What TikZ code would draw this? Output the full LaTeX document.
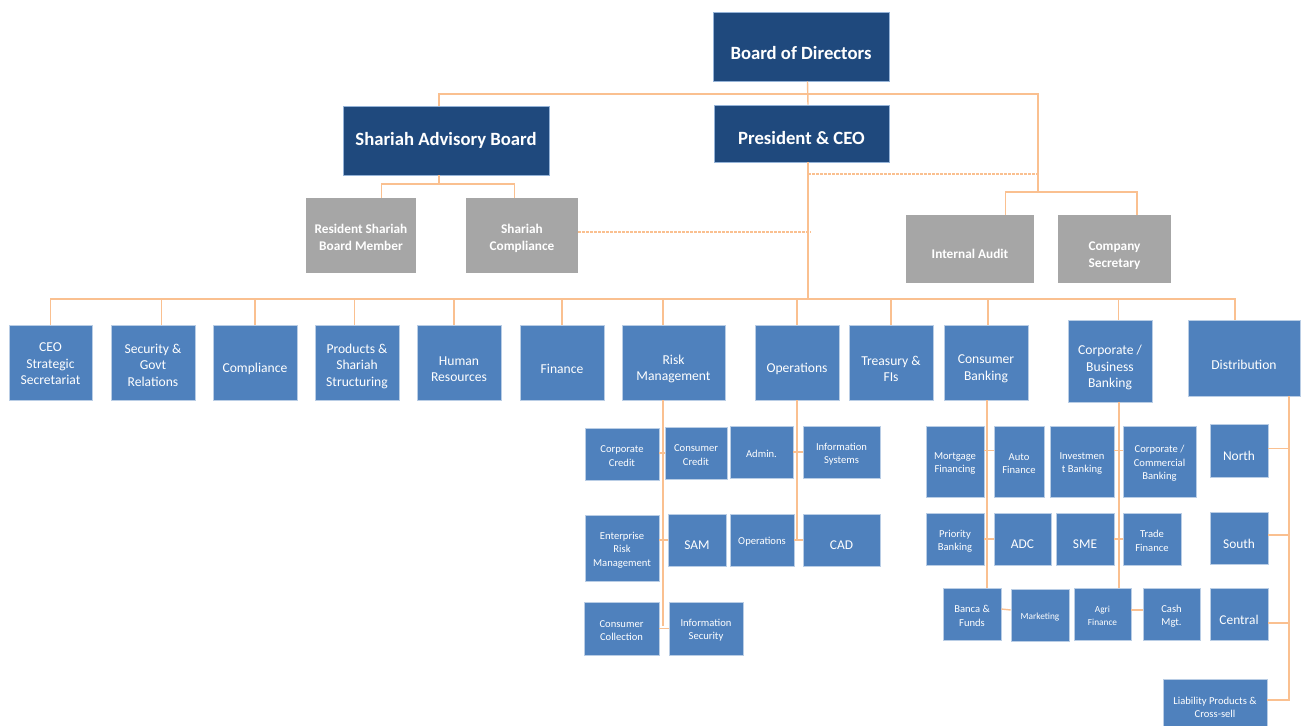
\documentclass[tikz,border=0pt]{standalone}
\usepackage{fontspec}
\setmainfont{Carlito}
\definecolor{dkblue}{RGB}{31,73,125}
\definecolor{ltblue}{RGB}{79,129,189}
\definecolor{grbox}{RGB}{166,166,166}
\definecolor{orline}{RGB}{250,192,144}
\pgfkeys{/org/ts/.code={\xdef\orgts{#1}}}
\gdef\orgts{0}
\newcommand\orgbox[8][]{%
  \node[#3,#1,minimum width={(#6)-(#4)},minimum height={(#7)-(#5)}] (#2) at ({((#4)+(#6))/2},{((#5)+(#7))/2}) {};
  \node[#3,#1,fill=none,draw=none,yshift=-\orgts pt] (#2-t) at (#2.center) {#8};}
\begin{document}
\begin{tikzpicture}[x=1pt,y=-1pt,
  base/.style={rectangle,inner sep=0pt,text=white,align=center},
  topbox/.style={base,fill=dkblue,draw=ltblue!60,line width=0.6pt,font=\bfseries\fontsize{18.7}{22}\selectfont,/org/ts=5},
  graybox/.style={base,fill=grbox,font=\bfseries\fontsize{13.3}{17}\selectfont,/org/ts=4.5},
  deptbox/.style={base,fill=ltblue,draw=ltblue!40,line width=0.6pt,font=\fontsize{13.6}{16.5}\selectfont,/org/ts=6.5},
  subbox/.style={base,fill=ltblue,draw=ltblue!40,line width=0.6pt,font=\fontsize{10.6}{13.3}\selectfont,/org/ts=2},
  bigsub/.style={subbox,font=\fontsize{13.4}{16}\selectfont,/org/ts=5.5},
  tinysub/.style={subbox,font=\fontsize{9.3}{12.5}\selectfont,/org/ts=2},
  link/.style={draw=orline,line width=1.4pt},
  dlink/.style={draw=orline,line width=1.4pt,dash pattern=on 2.5pt off 1.5pt}]
\useasboundingbox (0,0) rectangle (1302,726);
% top level
\orgbox[/org/ts=6.5]{bod}{topbox}{713}{12}{889}{81}{Board of Directors}
\orgbox[/org/ts=0]{sab}{topbox}{343}{106}{549}{175}{Shariah Advisory Board}
\orgbox{pres}{topbox}{714}{105}{889}{162}{President \& CEO}
\orgbox[/org/ts=2]{rsb}{graybox}{306}{198}{416}{273}{Resident Shariah\\Board Member}
\orgbox[/org/ts=3]{sc}{graybox}{466}{198}{578}{273}{Shariah\\Compliance}
\orgbox{ia}{graybox}{906}{215}{1034}{283}{Internal Audit}
\orgbox[/org/ts=7]{cs}{graybox}{1058}{215}{1171}{283}{Company\\Secretary}
% departments
\orgbox[/org/ts=1.5]{ceo}{deptbox}{9}{325}{92}{400}{CEO\\Strategic\\Secretariat}
\orgbox[/org/ts=2.5]{sec}{deptbox}{111}{325}{195}{400}{Security \&\\Govt\\Relations}
\orgbox{comp}{deptbox}{213}{325}{297}{400}{Compliance}
\orgbox[/org/ts=3.5]{prod}{deptbox}{315}{325}{399}{400}{Products \&\\Shariah\\Structuring}
\orgbox{hr}{deptbox}{417}{325}{501}{400}{Human\\Resources}
\orgbox{fin}{deptbox}{520}{325}{604}{400}{Finance}
\orgbox{risk}{deptbox}{622}{325}{725}{400}{Risk\\Management}
\orgbox{ops}{deptbox}{755}{325}{839}{400}{Operations}
\orgbox{tre}{deptbox}{849}{325}{933}{400}{Treasury \&\\FIs}
\orgbox{cb}{deptbox}{944}{325}{1028}{400}{Consumer\\Banking}
\orgbox{corp}{deptbox}{1068}{320}{1152}{402}{Corporate /\\Business\\Banking}
\orgbox{dist}{deptbox}{1188}{320}{1300}{396}{Distribution}
% risk subtree
\orgbox{cc}{subbox}{585}{428}{659}{480}{Corporate\\Credit}
\orgbox{ccr}{subbox}{665}{427}{727}{479}{Consumer\\Credit}
\orgbox{erm}{subbox}{585}{515}{659}{581}{Enterprise\\Risk\\Management}
\orgbox{sam}{bigsub}{668}{514}{726}{566}{SAM}
\orgbox{col}{subbox}{584}{602}{659}{655}{Consumer\\Collection}
\orgbox{isec}{subbox}{669}{602}{743}{655}{Information\\Security}
% operations subtree
\orgbox{adm}{subbox}{730}{426}{793}{478}{Admin.}
\orgbox{is}{subbox}{803}{426}{880}{478}{Information\\Systems}
\orgbox{op2}{subbox}{730}{514}{794}{566}{Operations}
\orgbox{cad}{bigsub}{803}{514}{880}{566}{CAD}
% consumer subtree
\orgbox{mf}{subbox}{926}{426}{984}{497}{Mortgage\\Financing}
\orgbox{af}{subbox}{994}{426}{1044}{497}{Auto\\Finance}
\orgbox{pb}{subbox}{926}{513}{984}{565}{Priority\\Banking}
\orgbox{adc}{bigsub}{994}{513}{1051}{565}{ADC}
\orgbox{baf}{subbox}{943}{588}{1001}{640}{Banca \&\\Funds}
\orgbox{mkt}{tinysub}{1011}{589}{1069}{641}{Marketing}
% corporate subtree
\orgbox{ib}{subbox}{1050}{426}{1114}{497}{Investmen\\t Banking}
\orgbox{ccb}{subbox}{1123}{426}{1196}{497}{Corporate /\\Commercial\\Banking}
\orgbox{sme}{bigsub}{1056}{513}{1114}{565}{SME}
\orgbox{tf}{subbox}{1123}{513}{1181}{565}{Trade\\Finance}
\orgbox{agri}{tinysub}{1074}{588}{1131}{640}{Agri\\Finance}
\orgbox{cash}{subbox}{1143}{588}{1200}{640}{Cash\\Mgt.}
% distribution subtree
\orgbox{north}{bigsub}{1210}{424}{1268}{477}{North}
\orgbox{south}{bigsub}{1210}{512}{1268}{564}{South}
\orgbox{central}{bigsub}{1210}{588}{1268}{640}{Central}
\orgbox{lp}{subbox}{1163}{679}{1267}{732}{Liability Products \&\\Cross-sell}
% coordinates
\coordinate (topbus) at (1038,94);
\coordinate (auj) at (1038,192);
\coordinate (shj) at (439,184);
\coordinate (scd) at (811,232);
\coordinate (pd1) at (808,174);
\coordinate (pd2) at (1038,174);
\coordinate (dbus) at (808,299);
\coordinate (rk) at (663,626);
\coordinate (op) at (797,539);
\coordinate (cbj) at (987,588);
\coordinate (cpj) at (1119,588);
\coordinate (dv) at (1289,396);
% connectors
\draw[link] ([xshift=6.5]bod.south) -- ([xshift=6.5]pres.north);
\draw[link] ([xshift=-7]sab.north) |- (topbus) -- (auj);
\draw[link] ([xshift=35.5]ia.north) |- (auj) -| ([xshift=22.5]cs.north);
\draw[link] ([xshift=-7]sab.south) -- (shj);
\draw[link] ([xshift=20.5]rsb.north) |- (shj) -| ([xshift=-7.5]sc.north);
\draw[dlink] (sc.east |- scd) -- (scd);
\draw[dlink] (pd1) -- (pd2);
\draw[link] ([xshift=6.5]pres.south) -- (dbus);
\foreach \d/\s in {ceo/0,sec/8.5,comp/0,prod/-2.5,hr/-5,fin/0,risk/-10.5,ops/0,tre/0,cb/2,corp/8.5,dist/-9}
  \draw[link] ([xshift=\s]\d.north) |- (dbus);
\draw[link] ([xshift=-10.5]risk.south) -- (rk);
\draw[link] (cc.east) -- (ccr.west -| cc.east) -- (ccr.west);
\draw[link] (erm.east |- sam.west) -- (sam.west);
\draw[link] (col.east) -- (isec.west);
\draw[link] (ops.south) -- (op);
\draw[link] (adm.east) -- (is.west);
\draw[link] (op2.east) -- (cad.west);
\draw[link] ([xshift=1]cb.south) -- (cbj);
\draw[link] ([yshift=11]mf.east) -- ([yshift=11]af.west);
\draw[link] (pb.east) -- (adc.west);
\draw[link] ([yshift=5]baf.east) -- ([yshift=5]mkt.west);
\draw[link] ([xshift=9]corp.south) -- (cpj);
\draw[link] ([yshift=11]ib.east) -- ([yshift=11]ccb.west);
\draw[link] (sme.east) -- (tf.west);
\draw[link] ([yshift=4]agri.east) -- ([yshift=4]cash.west);
\draw[link] (dv) |- ([yshift=5.5]lp.east);
\draw[link] ([yshift=2]north.east) -- ([yshift=2]north.east -| dv);
\draw[link] ([yshift=3]south.east) -- ([yshift=3]south.east -| dv);
\draw[link] ([yshift=-9]central.east) -- ([yshift=-9]central.east -| dv);
\end{tikzpicture}
\end{document}
